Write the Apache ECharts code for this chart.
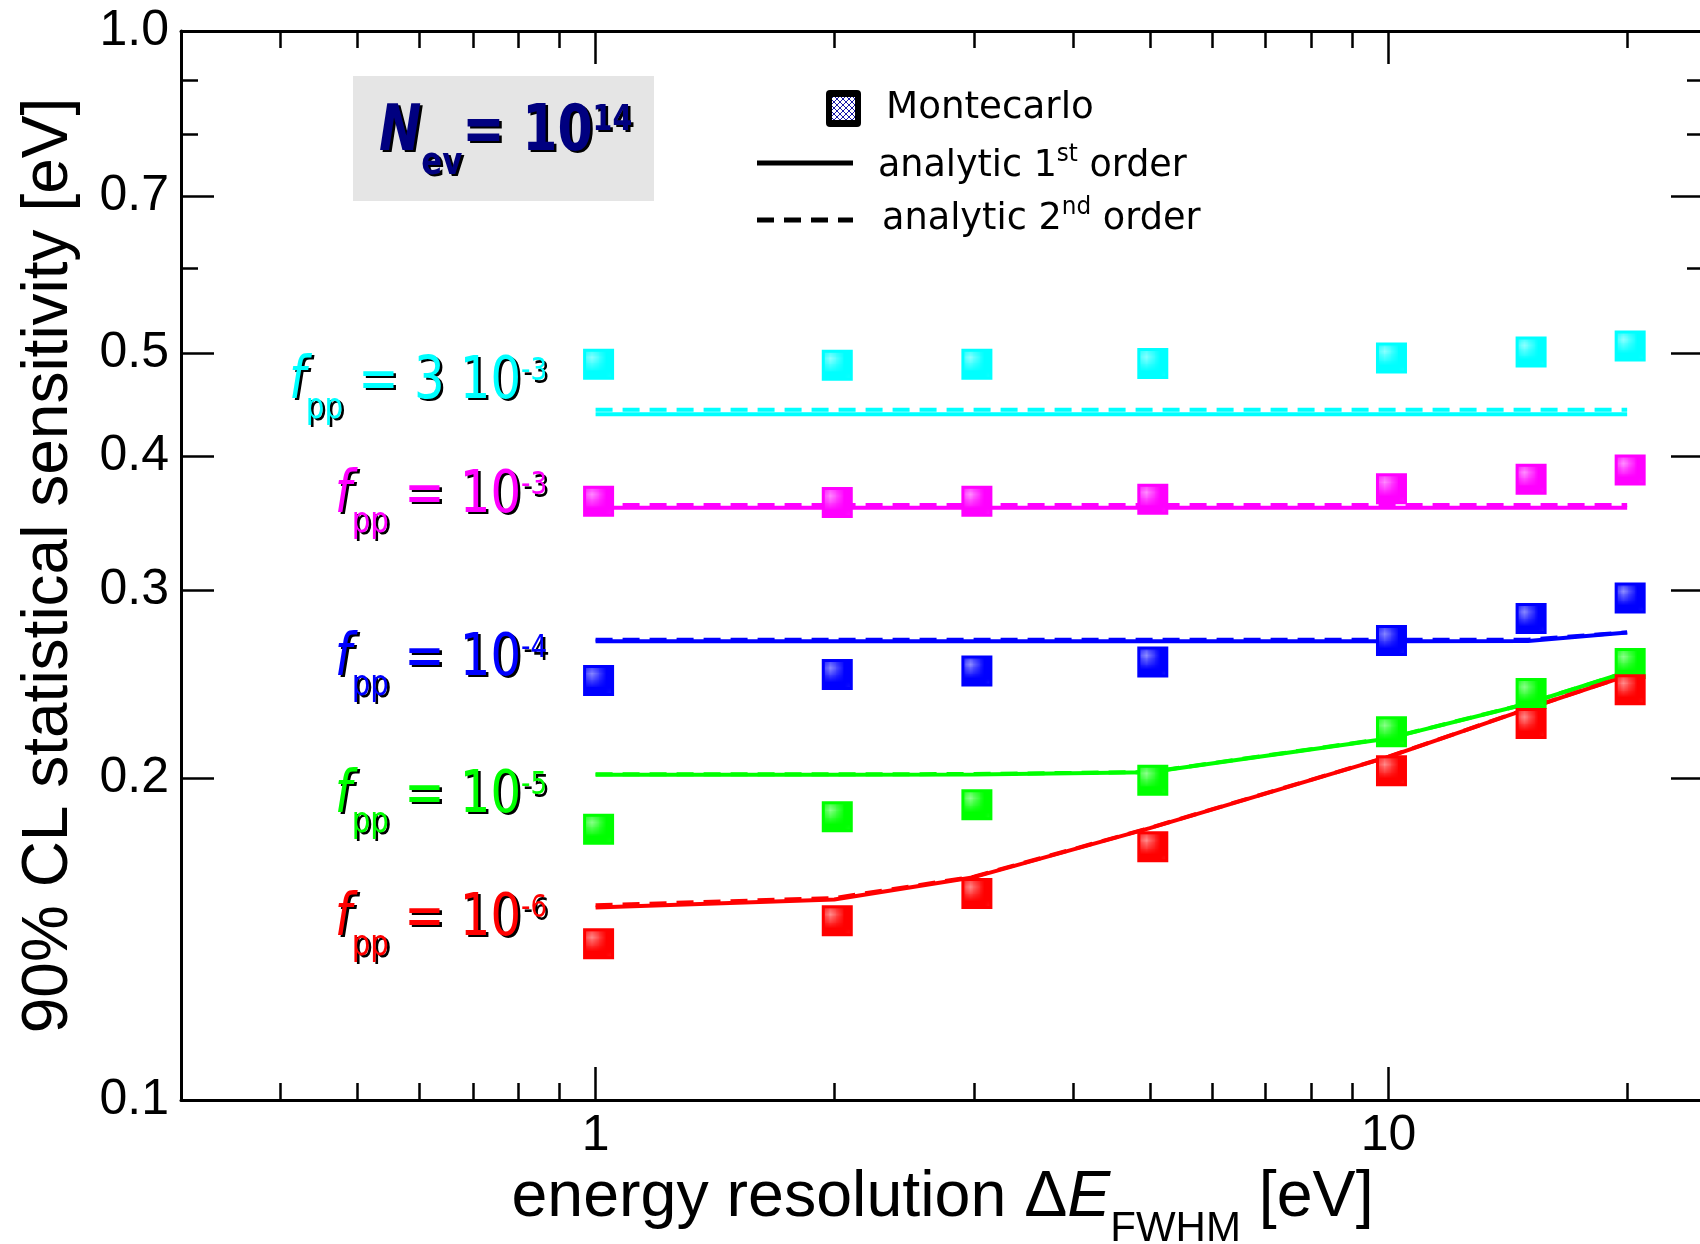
<!DOCTYPE html>
<html>
<head>
<meta charset="utf-8">
<script src="https://cdn.jsdelivr.net/npm/echarts@6/dist/echarts.min.js"></script>
<style>
html,body{margin:0;padding:0;background:#ffffff;}
#c{width:1700px;height:1244px;}
</style>
</head>
<body>
<div id="c"></div>
<script>
// ---------------- data ----------------
const xValues = [1, 2, 3, 5, 10, 15, 20];

// Montecarlo points
const mc_fpp3e3 = [0.4878, 0.4867, 0.4878, 0.4886, 0.4945, 0.5008, 0.5073];
const mc_fpp1e3 = [0.3632, 0.3621, 0.3632, 0.3647, 0.3731, 0.3807, 0.3884];
const mc_fpp1e4 = [0.2469, 0.2500, 0.2520, 0.2569, 0.2690, 0.2821, 0.2949];
const mc_fpp1e5 = [0.1792, 0.1841, 0.1889, 0.1991, 0.2210, 0.2400, 0.2561];
const mc_fpp1e6 = [0.1400, 0.1471, 0.1560, 0.1725, 0.2032, 0.2250, 0.2420];

// analytic 1st order
const first_fpp3e3 = [0.4379, 0.4379, 0.4379, 0.4379, 0.4379, 0.4379, 0.4379];
const first_fpp1e3 = [0.3582, 0.3582, 0.3582, 0.3582, 0.3582, 0.3582, 0.3582];
const first_fpp1e4 = [0.2686, 0.2686, 0.2686, 0.2686, 0.2686, 0.2688, 0.2738];
const first_fpp1e5 = [0.2015, 0.2015, 0.2016, 0.2026, 0.2179, 0.2349, 0.2514];
const first_fpp1e6 = [0.1514, 0.1540, 0.1616, 0.1796, 0.2094, 0.2323, 0.2495];

// analytic 2nd order
const second_fpp3e3 = [0.4423, 0.4423, 0.4423, 0.4423, 0.4423, 0.4423, 0.4423];
const second_fpp1e3 = [0.3602, 0.3602, 0.3602, 0.3602, 0.3602, 0.3602, 0.3602];
const second_fpp1e4 = [0.2695, 0.2695, 0.2695, 0.2695, 0.2695, 0.2695, 0.2738];
const second_fpp1e5 = [0.2017, 0.2017, 0.2018, 0.2027, 0.2180, 0.2350, 0.2514];
const second_fpp1e6 = [0.1521, 0.1545, 0.1618, 0.1797, 0.2095, 0.2324, 0.2495];

// axes / ticks
const xRange = [0.3, 25];
const yRange = [0.1, 1.0];
const xTickLabels = [1, 10];
const xMajorTicks = [1, 10];
const xMinorTicks = [0.4, 0.5, 0.6, 0.7, 0.8, 0.9, 2, 3, 4, 5, 6, 7, 8, 9, 20];
const yTickLabels = [0.1, 0.2, 0.3, 0.4, 0.5, 0.7, 1.0];
const yMajorTicks = [0.2, 0.3, 0.4, 0.5, 0.7];
const yMinorTicks = [0.6, 0.8, 0.9];

const seriesLabels = ['3 10', '10', '10', '10', '10'];
const seriesExponents = ['-3', '-3', '-4', '-5', '-6'];
const seriesColors = ['#00ffff', '#ff00ff', '#0000ff', '#00ff00', '#ff0000'];

// ---------------- helpers ----------------
const lg = v => Math.log10(v);

function makePattern(color) {
  const c = document.createElement('canvas');
  c.width = 4; c.height = 4;
  const g = c.getContext('2d');
  g.fillStyle = color; g.fillRect(0, 0, 4, 4);
  g.fillStyle = 'rgba(255,255,255,0.55)';
  g.fillRect(1, 1, 1, 1); g.fillRect(3, 3, 1, 1);
  return { image: c, repeat: 'repeat' };
}
function makeHatch() {
  const c = document.createElement('canvas');
  c.width = 6; c.height = 6;
  const g = c.getContext('2d');
  g.fillStyle = '#ffffff'; g.fillRect(0, 0, 6, 6);
  g.strokeStyle = '#1a1aa8'; g.lineWidth = 1;
  g.beginPath(); g.moveTo(0, 0); g.lineTo(6, 6); g.moveTo(6, 0); g.lineTo(0, 6); g.stroke();
  return { image: c, repeat: 'repeat' };
}

const groups = [
  { mc: mc_fpp3e3, a1: first_fpp3e3, a2: second_fpp3e3 },
  { mc: mc_fpp1e3, a1: first_fpp1e3, a2: second_fpp1e3 },
  { mc: mc_fpp1e4, a1: first_fpp1e4, a2: second_fpp1e4 },
  { mc: mc_fpp1e5, a1: first_fpp1e5, a2: second_fpp1e5 },
  { mc: mc_fpp1e6, a1: first_fpp1e6, a2: second_fpp1e6 }
];

const series = [];
groups.forEach((g, k) => {
  const color = seriesColors[k];
  series.push({
    type: 'line', xAxisIndex: 0, yAxisIndex: 0, name: 'analytic 1st order',
    data: xValues.map((x, i) => [x, g.a1[i]]), symbol: 'none', silent: true,
    lineStyle: { color: color, width: 4 }, z: 2
  });
  series.push({
    type: 'line', xAxisIndex: 0, yAxisIndex: 0, name: 'analytic 2nd order',
    data: xValues.map((x, i) => [x, g.a2[i]]), symbol: 'none', silent: true,
    lineStyle: { color: color, width: 4, type: [17, 10] }, z: 3
  });
  series.push({
    type: 'scatter', xAxisIndex: 0, yAxisIndex: 0, name: 'Montecarlo',
    data: xValues.map((x, i) => [x, g.mc[i]]), symbol: 'rect', symbolSize: 28, symbolOffset: [3, 0],
    itemStyle: { color: makePattern(color), borderColor: color, borderWidth: 3, opacity: 1 },
    z: 5, silent: true
  });
});

const tickLine = { color: '#000', width: 2.5 };
const axisLine = { show: true, onZero: false, lineStyle: { color: '#000', width: 3 } };
const noLine = { show: false, onZero: false };
const labelFont = { fontFamily: 'Liberation Sans, Arial, sans-serif', fontSize: 50, color: '#000' };

function tickAxis(position, range, ticks, len, showLine, extra) {
  return Object.assign({
    type: 'value', position: position, min: lg(range[0]), max: lg(range[1]),
    axisLine: showLine ? axisLine : noLine,
    axisTick: { show: true, inside: true, length: len, lineStyle: tickLine, customValues: ticks.map(lg) },
    axisLabel: { show: false },
    splitLine: { show: false }, minorTick: { show: false }, silent: true
  }, extra || {});
}

const xAxes = [
  { type: 'log', logBase: 10, min: xRange[0], max: xRange[1], show: false, splitLine: { show: false } },
  tickAxis('bottom', xRange, xMajorTicks, 33, true, {
    axisLabel: Object.assign({
      show: true, margin: 11, customValues: xTickLabels.map(lg),
      formatter: v => String(Math.round(Math.pow(10, v)))
    }, labelFont),
    name: '{a|energy resolution Δ}{i|E}{s|FWHM}{a| [eV]}',
    nameLocation: 'middle', nameGap: 56, nameMoveOverlap: false,
    nameTextStyle: {
      fontFamily: 'Liberation Sans, Arial, sans-serif', color: '#000',
      rich: {
        a: { fontFamily: 'Liberation Sans, Arial, sans-serif', fontSize: 64.5, height: 64, padding: [10, 0, 0, 0], verticalAlign: 'top', color: '#000' },
        i: { fontFamily: 'Liberation Sans, Arial, sans-serif', fontSize: 64.5, fontStyle: 'italic', height: 64, padding: [10, 0, 0, 0], verticalAlign: 'top', color: '#000' },
        s: { fontFamily: 'Liberation Sans, Arial, sans-serif', fontSize: 42, height: 42, padding: [52, 0, 0, 0], verticalAlign: 'top', color: '#000' }
      }
    }
  }),
  tickAxis('bottom', xRange, xMinorTicks, 17, false),
  tickAxis('top', xRange, xMajorTicks, 33, true),
  tickAxis('top', xRange, xMinorTicks, 17, false)
];

const yAxes = [
  { type: 'log', logBase: 10, min: yRange[0], max: yRange[1], show: false, splitLine: { show: false } },
  tickAxis('left', yRange, yMajorTicks, 33, true, {
    axisLabel: Object.assign({
      show: true, margin: 12, customValues: yTickLabels.map(lg),
      formatter: v => Math.pow(10, v).toFixed(1)
    }, labelFont),
    name: '90% CL statistical sensitivity [eV]',
    nameLocation: 'middle', nameRotate: 90, nameGap: 100, nameMoveOverlap: false,
    nameTextStyle: { fontFamily: 'Liberation Sans, Arial, sans-serif', fontSize: 64, color: '#000' }
  }),
  tickAxis('left', yRange, yMinorTicks, 17, false),
  tickAxis('right', yRange, yMajorTicks, 33, true),
  tickAxis('right', yRange, yMinorTicks, 17, false)
];

// ---------------- annotations ----------------
const shadow = { textShadowColor: '#000000', textShadowOffsetX: 2.5, textShadowOffsetY: 2.5, textShadowBlur: 0.1 };
const fppBaselines = [403, 517, 680, 817, 940];

const graphics = [];
// N_ev box
graphics.push({ type: 'rect', shape: { x: 353, y: 76, width: 301, height: 125 }, style: { fill: '#e5e5e5' }, z: 10, silent: true });
graphics.push({
  type: 'text', x: 379, y: 155 - 67.1, scaleX: 0.79, z: 11, silent: true,
  style: Object.assign({
    text: '{n|N}{s|ev}{m|= 10}{p|14}', fill: '#000080',
    align: 'left', verticalAlign: 'top', textAlign: 'left', textVerticalAlign: 'top',
    fontFamily: 'DejaVu Sans', fontWeight: 'bold', fontSize: 64,
    rich: {
      n: Object.assign({ fontFamily: 'DejaVu Sans', fontWeight: 'bold', fontStyle: 'italic', fontSize: 64, height: 64, padding: [13, 0, 0, 0], verticalAlign: 'top', fill: '#000080' }, shadow),
      s: Object.assign({ fontFamily: 'DejaVu Sans', fontWeight: 'bold', fontSize: 39, height: 39, padding: [56, 0, 0, 0], verticalAlign: 'top', fill: '#000080' }, shadow),
      m: Object.assign({ fontFamily: 'DejaVu Sans', fontWeight: 'bold', fontSize: 64, height: 64, padding: [13, 0, 0, 0], verticalAlign: 'top', fill: '#000080' }, shadow),
      p: Object.assign({ fontFamily: 'DejaVu Sans', fontWeight: 'bold', fontSize: 36, height: 36, padding: [14.6, 0, 0, 0], verticalAlign: 'top', fill: '#000080' }, shadow)
    }
  }, shadow)
});

// f_pp labels
seriesColors.forEach((color, k) => {
  graphics.push({
    type: 'text', x: 547, y: fppBaselines[k] - 60.4, scaleX: 0.815, z: 11, silent: true,
    style: Object.assign({
      text: '{f|f}{s|pp}{m| = ' + seriesLabels[k] + '}{e|' + seriesExponents[k] + '}', fill: color,
      align: 'right', verticalAlign: 'top', textAlign: 'right', textVerticalAlign: 'top',
      fontFamily: 'DejaVu Sans', fontSize: 59,
      rich: {
        f: Object.assign({ fontFamily: 'DejaVu Sans', fontStyle: 'italic', fontSize: 59, height: 59, padding: [10.5, 0, 0, 0], verticalAlign: 'top', fill: color }, shadow),
        s: Object.assign({ fontFamily: 'DejaVu Sans', fontSize: 36, height: 36, padding: [48, 0, 0, 0], verticalAlign: 'top', fill: color }, shadow),
        m: Object.assign({ fontFamily: 'DejaVu Sans', fontSize: 59, height: 59, padding: [10.5, 0, 0, 0], verticalAlign: 'top', fill: color }, shadow),
        e: Object.assign({ fontFamily: 'DejaVu Sans', fontSize: 32, height: 32, padding: [13.3, 0, 0, 0], verticalAlign: 'top', fill: color }, shadow)
      }
    }, shadow)
  });
});

// legend
graphics.push({ type: 'rect', shape: { x: 826, y: 90, width: 35, height: 37, r: 4 }, style: { fill: '#000' }, z: 10, silent: true });
graphics.push({ type: 'rect', shape: { x: 832, y: 97, width: 23, height: 23 }, style: { fill: makeHatch() }, z: 11, silent: true });
graphics.push({
  type: 'text', x: 886, y: 108, scaleX: 0.98, z: 11, silent: true,
  style: { text: 'Montecarlo', fill: '#000', fontFamily: 'DejaVu Sans', fontSize: 38, align: 'left', verticalAlign: 'middle', textAlign: 'left', textVerticalAlign: 'middle' }
});
graphics.push({ type: 'line', shape: { x1: 757, y1: 163, x2: 853, y2: 163 }, style: { stroke: '#000', lineWidth: 5 }, z: 10, silent: true });
graphics.push({ type: 'line', shape: { x1: 757, y1: 220, x2: 853, y2: 220 }, style: { stroke: '#000', lineWidth: 5, lineDash: [17, 10] }, z: 10, silent: true });
const legRich = {
  m: { fontFamily: 'DejaVu Sans', fontSize: 38, height: 38, padding: [11, 0, 0, 0], verticalAlign: 'top', fill: '#000' },
  p: { fontFamily: 'DejaVu Sans', fontSize: 24, height: 24, padding: [5.8, 0, 0, 0], verticalAlign: 'top', fill: '#000' }
};
graphics.push({
  type: 'text', x: 878, y: 136.5, scaleX: 0.96, z: 11, silent: true,
  style: { text: '{m|analytic 1}{p|st}{m| order}', fill: '#000', align: 'left', verticalAlign: 'top', textAlign: 'left', textVerticalAlign: 'top', fontFamily: 'DejaVu Sans', fontSize: 38, rich: legRich }
});
graphics.push({
  type: 'text', x: 882, y: 189.5, scaleX: 0.965, z: 11, silent: true,
  style: { text: '{m|analytic 2}{p|nd}{m| order}', fill: '#000', align: 'left', verticalAlign: 'top', textAlign: 'left', textVerticalAlign: 'top', fontFamily: 'DejaVu Sans', fontSize: 38, rich: legRich }
});

const chart = echarts.init(document.getElementById('c'), null, { renderer: 'canvas', width: 1700, height: 1244 });
chart.setOption({
  backgroundColor: '#ffffff',
  animation: false,
  grid: { left: 181, top: 31, width: 1523, height: 1069, containLabel: false, outerBoundsMode: 'none' },
  xAxis: xAxes,
  yAxis: yAxes,
  series: series,
  graphic: graphics
});
</script>
</body>
</html>
